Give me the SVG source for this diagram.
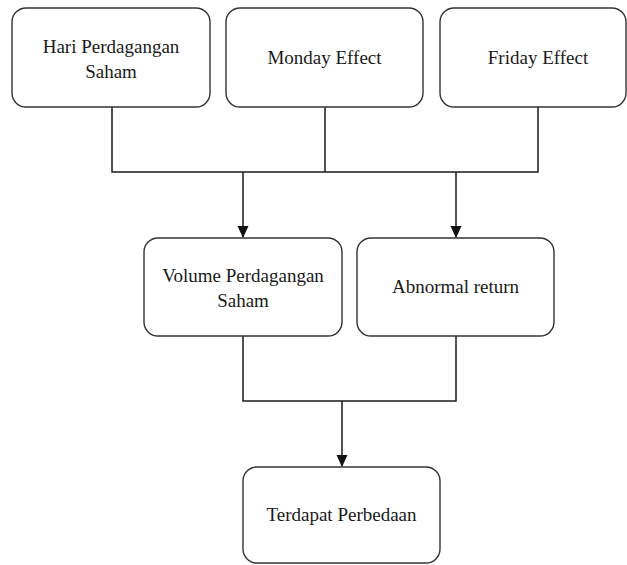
<svg xmlns="http://www.w3.org/2000/svg" width="627" height="565" viewBox="0 0 627 565">
<style>
.box{fill:#fff;stroke:#333;stroke-width:1.4}
.t{font-family:"Liberation Serif","Times New Roman",serif;font-size:19px;fill:#1a1a1a;text-anchor:middle}
.c{fill:none;stroke:#1a1a1a;stroke-width:1.5}
</style>
<defs>
<marker id="ah" viewBox="0 0 12 12" refX="11" refY="6" markerWidth="12" markerHeight="12" markerUnits="userSpaceOnUse" orient="auto">
<path d="M0,0.5 L12,6 L0,11.5 Z" fill="#111"/>
</marker>
</defs>
<rect width="627" height="565" fill="#fff"/>
<g id="connectors">
<path class="c" d="M112,107 V172 H538 V107"/>
<path class="c" d="M325,107 V172"/>
<path class="c" d="M243,172 V237" marker-end="url(#ah)"/>
<path class="c" d="M456,172 V237" marker-end="url(#ah)"/>
<path class="c" d="M243,336 V401 H456 V336"/>
<path class="c" d="M342,401 V466" marker-end="url(#ah)"/>
</g>
<g id="n1"><rect class="box" x="12" y="8" width="198" height="99" rx="14"/><text class="t" x="111" y="53">Hari Perdagangan</text><text class="t" x="111" y="78">Saham</text></g>
<g id="n2"><rect class="box" x="226" y="8" width="197" height="99" rx="14"/><text class="t" x="324.5" y="64">Monday Effect</text></g>
<g id="n3"><rect class="box" x="440" y="8" width="186" height="99" rx="14"/><text class="t" x="538" y="64">Friday Effect</text></g>
<g id="n4"><rect class="box" x="144" y="238" width="198" height="98" rx="14"/><text class="t" x="243" y="282">Volume Perdagangan</text><text class="t" x="243" y="307">Saham</text></g>
<g id="n5"><rect class="box" x="357" y="238" width="197" height="98" rx="14"/><text class="t" x="455.5" y="293">Abnormal return</text></g>
<g id="n6"><rect class="box" x="243" y="467" width="197" height="96" rx="14"/><text class="t" x="341.5" y="521">Terdapat Perbedaan</text></g>
</svg>
